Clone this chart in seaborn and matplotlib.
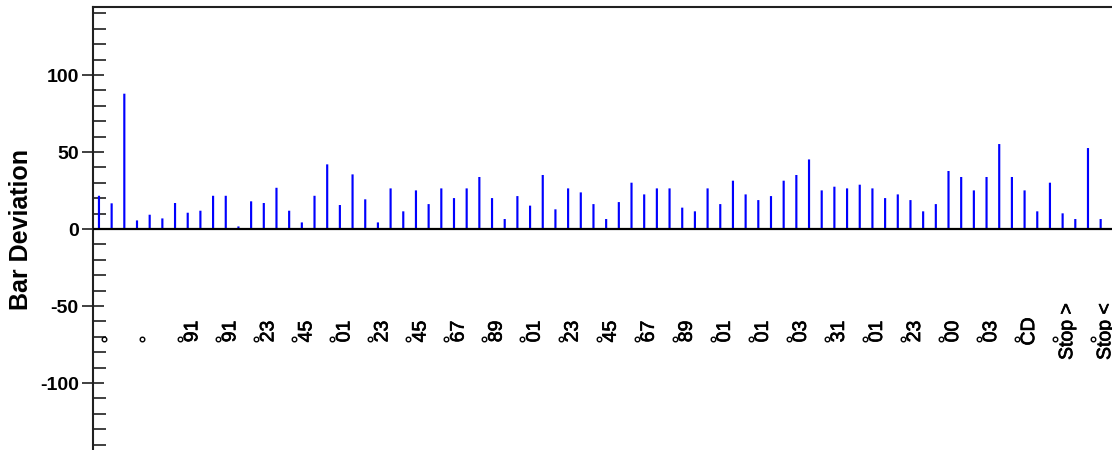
import seaborn as sns
import matplotlib.pyplot as plt
import matplotlib.ticker as mticker
import matplotlib.patheffects as pe
import numpy as np
import pandas as pd

sns.set_style('white')
plt.rcParams['font.family'] = ['Liberation Sans', 'DejaVu Sans']
plt.rcParams['axes.unicode_minus'] = False
plt.rcParams['text.color'] = 'black'
plt.rcParams['ytick.labelcolor'] = 'black'

# bar deviations, one per bar
deviation = [
    21.6, 16.7, 87.9, 5.6, 9.3, 6.9, 16.9, 10.6, 11.9, 21.6,
    21.6, 1.7, 18.0, 16.9, 26.8, 11.9, 4.3, 21.6, 42.0, 15.6,
    35.5, 19.3, 4.3, 26.4, 11.5, 25.1, 16.2, 26.4, 20.1, 26.4,
    33.8, 20.1, 6.5, 21.4, 15.2, 35.1, 12.8, 26.4, 23.8, 16.2,
    6.5, 17.5, 30.1, 22.5, 26.4, 26.4, 13.9, 11.5, 26.4, 16.2,
    31.4, 22.5, 18.8, 21.4, 31.4, 35.1, 45.2, 25.1, 27.5, 26.4,
    28.8, 26.4, 20.1, 22.5, 18.8, 11.5, 16.2, 37.7, 33.8, 25.1,
    33.8, 55.2, 33.8, 25.1, 11.5, 30.1, 10.2, 6.5, 52.6, 6.5,
]
bar_no = list(range(len(deviation)))

# one label every third bar
label_every = 3
bar_labels = ['', '', '91', '91', '23', '45', '01', '23', '45', '67',
              '89', '01', '23', '45', '67', '89', '01', '01', '03', '31',
              '01', '23', '00', '03', 'CD', 'Stop >', 'Stop <']

df = pd.DataFrame({'bar': bar_no, 'deviation': deviation})

fig = plt.figure(figsize=(11.12, 4.5), dpi=100)
ax = fig.add_axes([93 / 1112, 0, 1045.7 / 1112, 443 / 450])

sns.barplot(data=df, x='bar', y='deviation', color='#0000FF', saturation=1,
            width=0.17, linewidth=0, ax=ax)
for p in ax.patches:
    p.set_snap(False)

ax.axhline(0, color='black', lw=1.6, zorder=3)

label_pos = np.arange(len(bar_labels)) * label_every
ax.plot(label_pos + 0.4, np.full(len(label_pos), -71.5), 'o', ms=3.3,
        mfc='white', mec='black', mew=1.0, clip_on=False)
for x, lab in zip(label_pos, bar_labels):
    ax.text(x + 1.4, -66.5, lab, rotation=90, ha='center', va='center',
            fontsize=14, color='black',
            path_effects=[pe.withStroke(linewidth=0.5, foreground='black')])

ax.set_xlim(-0.47, 82)
ax.set_ylim(-143.5, 144.2)
ax.set_xticks([])
ax.set_xlabel('')

ax.set_yticks([-100, -50, 0, 50, 100])
ax.yaxis.set_minor_locator(mticker.MultipleLocator(10))
ax.tick_params(axis='y', which='major', direction='inout', length=16.5,
               width=1.2, color='#202020', labelsize=14, pad=2, left=True,
               labelcolor='black')
ax.tick_params(axis='y', which='minor', direction='in', length=9.4,
               width=1.2, color='#202020', left=True)
for t in ax.get_yticklabels():
    t.set_fontweight('bold')

for side in ['bottom', 'right']:
    ax.spines[side].set_visible(False)
for side in ['top', 'left']:
    ax.spines[side].set_color('#202020')
    ax.spines[side].set_linewidth(1.5)

ax.set_ylabel('Bar Deviation', fontsize=18, fontweight='bold', color='black')
ax.yaxis.label.set_va('center')
ax.yaxis.set_label_coords(-0.069, 0.497)

fig.savefig('out.png', dpi=100)
